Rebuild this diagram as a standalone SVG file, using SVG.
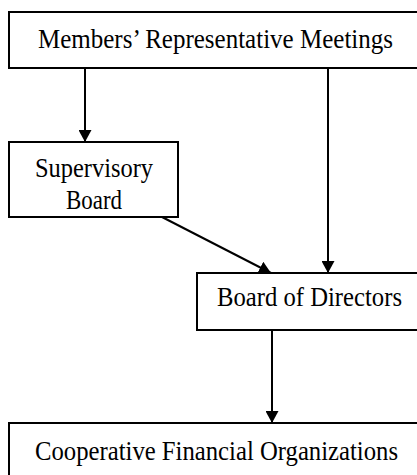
<svg xmlns="http://www.w3.org/2000/svg" width="417" height="475" viewBox="0 0 417 475">
<style>
.box{fill:#fff;stroke:#000;stroke-width:2}
.t{font-family:"Liberation Serif","Times New Roman",serif;font-size:28px;fill:#000}
.c{stroke:#000;stroke-width:2;fill:none}
</style>
<defs>
<marker id="ah" markerWidth="12" markerHeight="13" refX="12" refY="6.5" orient="auto" markerUnits="userSpaceOnUse" viewBox="0 0 12 13">
<path d="M0,0 L12,6.5 L0,13 z" fill="#000"/>
</marker>
</defs>
<rect width="417" height="475" fill="#fff"/>
<g id="connectors">
<line class="c" x1="85" y1="68" x2="85" y2="142" marker-end="url(#ah)"/>
<line class="c" x1="328" y1="68" x2="328" y2="273" marker-end="url(#ah)"/>
<line class="c" x1="162" y1="217" x2="271" y2="273" marker-end="url(#ah)"/>
<line class="c" x1="272" y1="330" x2="272" y2="423" marker-end="url(#ah)"/>
</g>
<g id="members">
<rect class="box" x="9" y="12" width="420" height="56"/>
<text class="t" x="38" y="48" textLength="355" lengthAdjust="spacingAndGlyphs">Members’ Representative Meetings</text>
</g>
<g id="supervisory">
<rect class="box" x="9" y="142" width="169" height="75"/>
<text class="t" x="35" y="177" textLength="118" lengthAdjust="spacingAndGlyphs">Supervisory</text>
<text class="t" x="66" y="209" textLength="56" lengthAdjust="spacingAndGlyphs">Board</text>
</g>
<g id="directors">
<rect class="box" x="197" y="273" width="230" height="57"/>
<text class="t" x="217" y="306" textLength="185" lengthAdjust="spacingAndGlyphs">Board of Directors</text>
</g>
<g id="cooperative">
<rect class="box" x="9" y="423" width="420" height="70"/>
<text class="t" x="35" y="460" textLength="363" lengthAdjust="spacingAndGlyphs">Cooperative Financial Organizations</text>
</g>
</svg>
